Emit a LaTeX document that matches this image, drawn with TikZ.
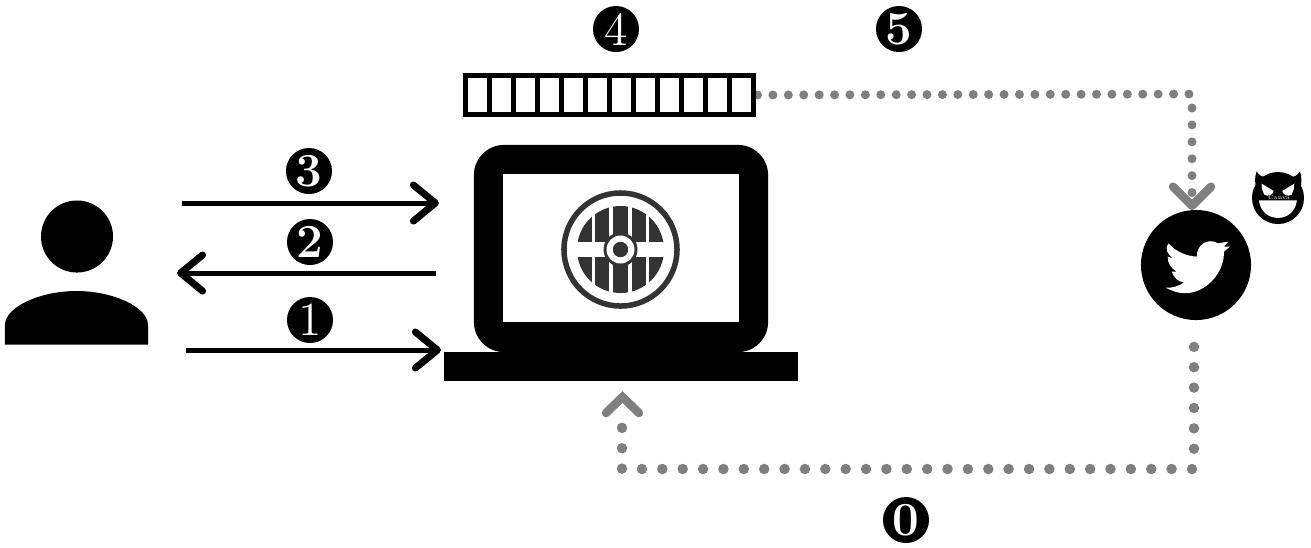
\documentclass[tikz,border=0pt]{standalone}
\usepackage{tikz}
\usetikzlibrary{arrows.meta}
\tikzset{
    badge/.style={
        circle,
        fill=black,
        text=white,
        minimum size=0.46cm,
        inner sep=0pt,
        font=\fontsize{13.5}{13.5}\selectfont
    },
    heavybadge/.style={
        badge,
        font=\fontsize{13.5}{13.5}\selectfont\bfseries
    },
    msgarrow/.style={
        line width=0.05cm,
        -{Straight Barb[length=0.22cm, width=0.36cm, line width=0.07cm, round]}
    },
    dotline/.style={
        black,
        opacity=0.5,
        line width=0.105cm,
        line cap=round,
        line join=round,
        dash pattern=on 0pt off 0.2036cm
    },
    finedots/.style={
        dotline,
        line width=0.09cm,
        dash pattern=on 0pt off #1
    },
    chevronline/.style={
        black,
        opacity=0.5,
        line width=0.085cm,
        line cap=round,
        line join=miter
    },
    cell/.style={
        draw,
        line width=0.05cm,
        minimum width=0.24cm,
        minimum height=0.39cm,
        inner sep=0pt,
        outer sep=0pt
    },
    plate/.style={
        fill=black,
        inner sep=0pt,
        outer sep=0pt
    }
}

\begin{document}
\begin{tikzpicture}[x=0.01cm, y=-0.01cm]
  \useasboundingbox (0,0) rectangle (1311,547);
  \definecolor{shieldgray}{HTML}{333333}

  % User
  \node[plate, circle, minimum size=0.72cm] (userhead) at (77,236.5) {};
  \node[inner sep=0pt, outer sep=0pt, minimum width=1.43cm, minimum height=0.54cm] (user) at (76.5,317.5) {};
  \fill (user.south west) -- (5,325) .. controls (5,307) and (40,291) .. (76.5,291)
     .. controls (113,291) and (148,307) .. (148,325) -- (user.south east) -- cycle;

  % Laptop
  \node[plate, rounded corners=0.3cm, minimum width=2.94cm, minimum height=2.07cm] (laptop) at (621,248.5) {};
  \node[plate, fill=white, minimum width=2.36cm, minimum height=1.48cm] (screen) at (621,248) {};
  \node[plate, minimum width=3.54cm, minimum height=0.29cm] (base) at (621,366.5) {};

  % Shield
  \node[circle, draw=shieldgray, line width=0.055cm, minimum size=1.13cm, inner sep=0pt] (shield) at (620.5,249.5) {};
  \fill[shieldgray] (shield) circle (43.5);
  \foreach \offs in {-27,-9.5,9.5,27}
    \fill[white] (620.5+\offs-1.7,205) rectangle (620.5+\offs+1.7,294);
  \fill[white] (576,242) rectangle (665,257);
  \fill[shieldgray] (shield) circle (17);
  \fill[white] (shield) circle (14);
  \fill[shieldgray] (shield) circle (7.7);

  % Queue
  \foreach \i in {1,...,12}
    \node[cell] (q\i) at (453.5+24*\i,95) {};

  % Twitter
  \node[plate, circle, minimum size=1.1cm] (tweet) at (1196,265) {};
  \begin{scope}[shift={(1150,225)}, x=0.00333cm, y=-0.00333cm]
    \fill[white] (55,55) .. controls (80,82) and (110,93) .. (141,95)
      .. controls (138,65) and (170,35) .. (205,55)
      -- (235,50) -- (222,65) -- (240,65) -- (222,80)
      .. controls (225,140) and (170,205) .. (105,205)
      .. controls (85,205) and (65,198) .. (47,188)
      .. controls (68,190) and (88,183) .. (103,172)
      .. controls (85,172) and (72,158) .. (65,140)
      -- (80,140) .. controls (63,130) and (53,115) .. (53,95)
      -- (70,100) .. controls (50,88) and (45,70) .. (55,55) -- cycle;
  \end{scope}

  % Devil
  \node[plate, circle, minimum size=0.52cm] (devil) at (1278,198) {};
  \begin{scope}[shift={(1245,163)}, x=0.00333cm, y=-0.00333cm]
    \fill (35,25) .. controls (29,42) and (29,60) .. (34,75) -- (62,42) .. controls (50,42) and (40,35) .. (35,25) -- cycle;
    \fill (165,25) .. controls (171,42) and (171,60) .. (166,75) -- (138,42) .. controls (150,42) and (160,35) .. (165,25) -- cycle;
    \fill[white] (50,62) -- (86,84) .. controls (84,96) and (68,102) .. (58,95) .. controls (52,85) and (50,75) .. (50,62) -- cycle;
    \fill[white] (148,62) -- (112,84) .. controls (114,96) and (130,102) .. (140,95) .. controls (146,85) and (148,75) .. (148,62) -- cycle;
    \fill[white] (42,112) -- (156,112) .. controls (152,148) and (125,165) .. (99,165) .. controls (73,165) and (46,148) .. (42,112) -- cycle;
  \end{scope}
  \node[text=white, inner sep=0pt, font=\fontsize{1.7}{2}\selectfont] (devilmark) at (1279,197.5) {Canva};

  % Requests and replies
  \draw[msgarrow, shorten <=0.34cm, shorten >=0.35cm] (user.east |- 0,203) -- (laptop.west |- 0,203);
  \draw[msgarrow, shorten <=0.38cm, shorten >=0.29cm] (laptop.west |- 0,273) -- (user.east |- 0,273);
  \draw[msgarrow, shorten <=0.38cm, shorten >=0.33cm] (user.east |- 0,350) -- (laptop.west |- 0,350);

  % Dotted links
  \coordinate (bend) at (1192,94);
  \coordinate (corner) at (1194,469);
  \coordinate (tail) at (622,420);
  \coordinate (apex) at (622.5,397);
  \draw[finedots=0.154cm, shorten <=0.04cm] (q12.east) -- (bend);
  \draw[finedots=0.169cm, shorten <=0.14cm,
    -{Straight Barb[length=0.19cm, width=0.38cm, line width=0.085cm, round]}] (bend) -- (tweet.north -| bend);
  \draw[dotline, shorten <=0.268cm] (tweet.south -| corner) -- (corner);
  \draw[dotline] ([xshift=-0.02cm]corner) -- (tail |- corner) -- (tail);
  \draw[chevronline] ([xshift=-0.165cm, yshift=-0.16cm]apex) -- (apex) -- ([xshift=0.165cm, yshift=-0.16cm]apex);

  % Numbers
  \node[heavybadge] (step0) at (906,520) {0};
  \node[badge] (step1) at (310,320) {1};
  \node[heavybadge] (step2) at (310,242) {2};
  \node[heavybadge] (step3) at (309,171) {3};
  \node[badge] (step4) at (616,29) {4};
  \node[heavybadge] (step5) at (899,29) {5};
\end{tikzpicture}
\end{document}
